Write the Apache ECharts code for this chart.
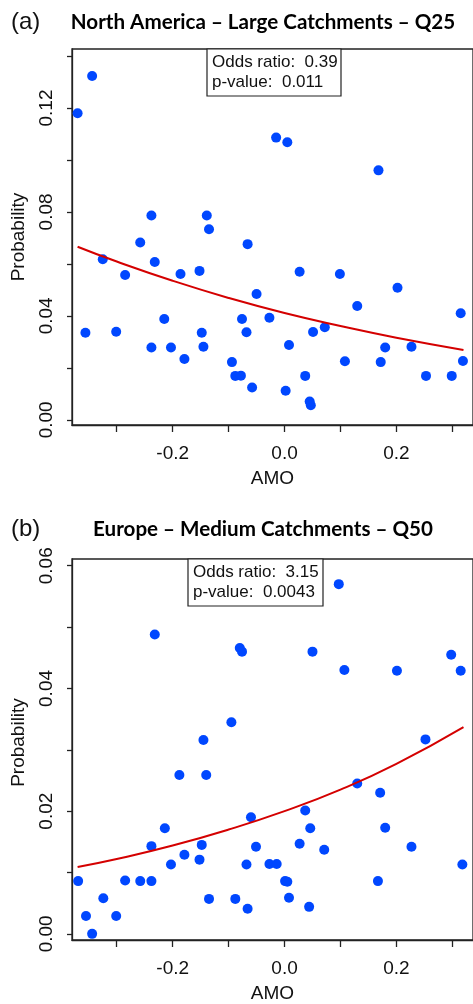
<!DOCTYPE html>
<html>
<head>
<meta charset="utf-8">
<script src="https://cdn.jsdelivr.net/npm/echarts@6/dist/echarts.min.js"></script>
<style>html,body{margin:0;padding:0;background:#fff;}#c{width:473px;height:1004px;}</style>
</head>
<body>
<div id="c"></div>
<script>
// ---- data ----
const naPoints = [
  [-0.370,0.1180],[-0.344,0.1323],[-0.356,0.0335],[-0.325,0.0618],[-0.301,0.0339],
  [-0.285,0.0557],[-0.258,0.0682],[-0.238,0.0786],[-0.238,0.0278],[-0.232,0.0607],
  [-0.215,0.0388],[-0.203,0.0278],[-0.186,0.0561],[-0.179,0.0234],[-0.152,0.0573],
  [-0.148,0.0335],[-0.145,0.0281],[-0.139,0.0786],[-0.135,0.0733],[-0.094,0.0222],
  [-0.088,0.0169],[-0.078,0.0170],[-0.076,0.0388],[-0.068,0.0337],[-0.066,0.0676],
  [-0.058,0.0124],[-0.050,0.0484],[-0.027,0.0393],[-0.015,0.1086],[0.002,0.0112],
  [0.005,0.1068],[0.008,0.0288],[0.027,0.0570],[0.037,0.0169],[0.045,0.0070],
  [0.047,0.0056],[0.051,0.0338],[0.072,0.0356],[0.099,0.0561],[0.108,0.0225],
  [0.130,0.0438],[0.168,0.0960],[0.172,0.0222],[0.180,0.0278],[0.202,0.0508],
  [0.227,0.0281],[0.253,0.0169],[0.299,0.0169],[0.315,0.0410],[0.319,0.0226]
];
const naFit = [[-0.37,0.0666],[-0.3,0.0609],[-0.2,0.0535],[-0.1,0.0469],[0,0.0411],[0.1,0.0361],[0.2,0.0316],[0.32,0.0269]];

const euPoints = [
  [-0.369,0.0086],[-0.355,0.0029],[-0.344,0.0000],[-0.324,0.0058],[-0.301,0.0029],
  [-0.285,0.0087],[-0.258,0.0086],[-0.238,0.0086],[-0.238,0.0143],[-0.232,0.0488],
  [-0.214,0.0172],[-0.203,0.0113],[-0.188,0.0259],[-0.179,0.0129],[-0.152,0.0121],
  [-0.148,0.0145],[-0.145,0.0316],[-0.140,0.0259],[-0.135,0.0057],[-0.095,0.0345],
  [-0.088,0.0057],[-0.080,0.0466],[-0.076,0.0460],[-0.068,0.0113],[-0.066,0.0041],
  [-0.060,0.0190],[-0.051,0.0142],[-0.027,0.0114],[-0.014,0.0114],[0.001,0.0086],
  [0.005,0.0085],[0.008,0.0059],[0.027,0.0147],[0.037,0.0201],[0.044,0.0044],
  [0.046,0.0172],[0.050,0.0460],[0.071,0.0137],[0.097,0.0570],[0.107,0.0430],
  [0.130,0.0245],[0.167,0.0086],[0.171,0.0230],[0.180,0.0173],[0.201,0.0429],
  [0.227,0.0142],[0.252,0.0317],[0.298,0.0455],[0.315,0.0429],[0.318,0.0113]
];
const euFit = [[-0.37,0.0109],[-0.3,0.0122],[-0.2,0.0144],[-0.1,0.0170],[0,0.0200],[0.1,0.0235],[0.2,0.0277],[0.32,0.0337]];

const xTicks = [-0.3,-0.2,-0.1,0,0.1,0.2,0.3];
const xLabels = [-0.2,0,0.2];
const naYTicks = [0,0.02,0.04,0.06,0.08,0.10,0.12,0.14];
const naYLabels = [0,0.04,0.08,0.12];
const euYTicks = [0,0.01,0.02,0.03,0.04,0.05,0.06];
const euYLabels = [0,0.02,0.04,0.06];

const panelTags = ['(a)','(b)'];
const panelTitles = ['North America \u2013 Large Catchments \u2013 Q25','Europe \u2013 Medium Catchments \u2013 Q50'];
const oddsRatios = ['0.39','3.15'];
const pValues = ['0.011','0.0043'];

// ---- chart ----
const AX = '#222';
const FONT = 'Liberation Sans, Arial, sans-serif';
function xAxisCfg(gi){
  return {
    type:'value', gridIndex:gi, min:-0.38, max:0.337,
    splitLine:{show:false},
    axisLine:{show:true, onZero:false, lineStyle:{color:AX, width:1.3}},
    axisTick:{show:true, length:7, customValues:xTicks, lineStyle:{color:AX, width:1.3}},
    axisLabel:{customValues:xLabels, margin:19, color:'#111', fontSize:19, fontFamily:FONT,
      formatter:v=>v.toFixed(1)},
    name:'AMO', nameLocation:'middle', nameGap:44,
    nameTextStyle:{color:'#111', fontSize:19, fontFamily:FONT}
  };
}
function yAxisCfg(gi,min,max,ticks,labels,pad){
  return {
    type:'value', gridIndex:gi, min:min, max:max,
    splitLine:{show:false},
    axisLine:{show:true, onZero:false, lineStyle:{color:AX, width:1.3}},
    axisTick:{show:true, length:5, customValues:ticks, lineStyle:{color:AX, width:1.3}},
    axisLabel:{customValues:labels, rotate:90, margin:16, color:'#111', fontSize:19, fontFamily:FONT,
      formatter:v=>v.toFixed(2)},
    name:'Probability', nameLocation:'middle', nameGap:44, nameRotate:90,
    nameTextStyle:{color:'#111', fontSize:19, fontFamily:FONT, padding:pad}
  };
}
function box(x,y,w,h,i){
  return {type:'group', z:100, children:[
    {type:'rect', shape:{x:x,y:y,width:w,height:h}, style:{fill:'#fff', stroke:'#222', lineWidth:1.2}},
    {type:'text', x:x+5, y:y+3, style:{text:'Odds ratio:  '+oddsRatios[i]+'\np-value:  '+pValues[i],
      font:'17px '+FONT, fill:'#111', lineHeight:20}}
  ]};
}
const chart = echarts.init(document.getElementById('c'));
chart.setOption({
  animation:false,
  backgroundColor:'#fff',
  grid:[
    {left:72, right:-5, top:49, height:376, show:true, borderColor:AX, borderWidth:1.3},
    {left:72, right:-5, top:559, height:384, show:true, borderColor:AX, borderWidth:1.3}
  ],
  xAxis:[xAxisCfg(0), xAxisCfg(1)],
  yAxis:[yAxisCfg(0,-0.002,0.1427,naYTicks,naYLabels,[0,0,0,0]), yAxisCfg(1,-0.001,0.0611,euYTicks,euYLabels,[0,0,0,14])],
  series:[
    {type:'scatter', xAxisIndex:0, yAxisIndex:0, data:naPoints, symbolSize:10, itemStyle:{color:'#0047FF', opacity:1}},
    {type:'line', xAxisIndex:0, yAxisIndex:0, data:naFit, smooth:true, showSymbol:false, lineStyle:{color:'#D40000', width:2}},
    {type:'scatter', xAxisIndex:1, yAxisIndex:1, data:euPoints, symbolSize:10, itemStyle:{color:'#0047FF', opacity:1}},
    {type:'line', xAxisIndex:1, yAxisIndex:1, data:euFit, smooth:true, showSymbol:false, lineStyle:{color:'#D40000', width:2}}
  ],
  graphic:[
    {type:'text', x:11, y:22, style:{text:panelTags[0], font:'24px '+FONT, fill:'#111', textVerticalAlign:'middle'}},
    {type:'text', x:263, y:22, style:{text:panelTitles[0], font:'bold 20.6px Lato, sans-serif', fill:'#000', textAlign:'center', textVerticalAlign:'middle'}},
    {type:'text', x:11, y:529, style:{text:panelTags[1], font:'24px '+FONT, fill:'#111', textVerticalAlign:'middle'}},
    {type:'text', x:263, y:529, style:{text:panelTitles[1], font:'bold 20.6px Lato, sans-serif', fill:'#000', textAlign:'center', textVerticalAlign:'middle'}},
    box(207,49,134,47,0),
    box(188,559,135,47,1)
  ]
});
</script>
</body>
</html>
